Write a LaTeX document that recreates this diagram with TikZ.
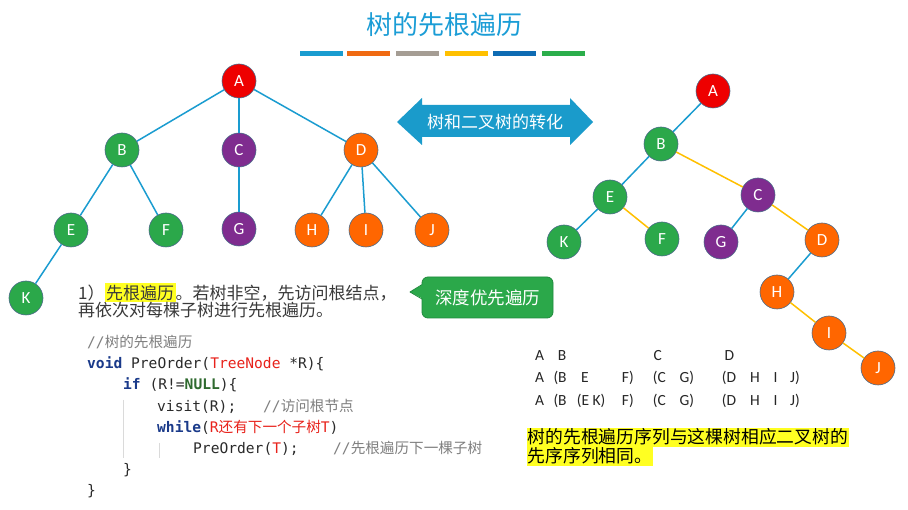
\documentclass[tikz,border=0pt]{standalone}
\usepackage{fontspec}
\setmainfont{Carlito}
\newfontfamily\cjk{Noto Sans CJK SC}
\newfontfamily\mono{DejaVu Sans Mono}
\definecolor{ttl}{HTML}{1B9DD6}
\definecolor{barA}{HTML}{1A9CD0}
\definecolor{barB}{HTML}{F06A12}
\definecolor{barC}{HTML}{A59D94}
\definecolor{barD}{HTML}{FFC000}
\definecolor{barE}{HTML}{0E6BB3}
\definecolor{barF}{HTML}{2BAE4B}
\definecolor{nred}{HTML}{EE0000}
\definecolor{ngreen}{HTML}{2BA84A}
\definecolor{npurple}{HTML}{7F2C8F}
\definecolor{norange}{HTML}{FF6600}
\definecolor{nborder}{HTML}{4A6A88}
\definecolor{eblue}{HTML}{1A9CD0}
\definecolor{eyellow}{HTML}{FFC000}
\definecolor{arrowc}{HTML}{1A9BCB}
\definecolor{cgreen}{HTML}{2BA84A}
\definecolor{cgreenD}{HTML}{1F8A3C}
\definecolor{hly}{HTML}{FFFF22}
\definecolor{bodytxt}{HTML}{3A3A3A}
\definecolor{codetxt}{HTML}{2A2A2A}
\definecolor{kw}{HTML}{1A3A8A}
\definecolor{kwg}{HTML}{2F6A2F}
\definecolor{cred}{HTML}{E8221B}
\definecolor{ccom}{HTML}{7F7F7F}
\definecolor{guide}{HTML}{DADADA}
\definecolor{seqc}{HTML}{262626}
\newcommand\hlt[1]{{\setlength\fboxsep{0pt}\colorbox{hly}{\kern1.5pt\rule[-3pt]{0pt}{19pt}#1\kern1.5pt}}}
\begin{document}
\begin{tikzpicture}[x=1pt,y=-1pt,
  tnode/.style={circle, minimum size=34pt, inner sep=0pt, draw=nborder, line width=0.6pt, text=white, font=\fontsize{17}{17}\selectfont},
  rn/.style={tnode, fill=nred},
  gn/.style={tnode, fill=ngreen},
  pn/.style={tnode, fill=npurple},
  on/.style={tnode, fill=norange},
  bedge/.style={draw=eblue, line width=1.5pt},
  yedge/.style={draw=eyellow, line width=1.5pt},
  codeline/.style={anchor=base west, inner sep=0pt, text=codetxt, font=\mono\fontsize{14.6}{17}\selectfont},
  seq/.style={anchor=base west, inner sep=0pt, text=seqc, font=\fontsize{15.5}{16}\selectfont},
  bodyline/.style={anchor=base west, inner sep=0pt, text=bodytxt, font=\cjk\fontsize{17}{17}\selectfont},
  hlline/.style={anchor=west, fill=hly, inner xsep=0.5pt, inner ysep=0pt, text height=15.5pt, text depth=3.5pt, text=black, font=\cjk\fontsize{17.8}{18}\selectfont}
]
\useasboundingbox (0,0) rectangle (908,510);
\fill[white] (0,0) rectangle (908,510);

% title
\node[text=ttl, font=\cjk\fontsize{26}{26}\selectfont] (title) at (444,25) {树的先根遍历};
\fill[barA] (300,51) rectangle (343,56);
\fill[barB] (347,51) rectangle (390,56);
\fill[barC] (396,51) rectangle (439,56);
\fill[barD] (445,51) rectangle (488,56);
\fill[barE] (493,51) rectangle (536,56);
\fill[barF] (542,51) rectangle (585,56);

% left tree
\node[rn] (A) at (239,81) {A};
\node[gn] (B) at (122,150) {B};
\node[pn] (C) at (239,150) {C};
\node[on] (D) at (361,150) {D};
\node[gn] (E) at (71,230) {E};
\node[gn] (F) at (166,230) {F};
\node[pn] (G) at (239,229) {G};
\node[on] (H) at (312,230) {H};
\node[on] (I) at (366,230) {I};
\node[on] (J) at (432,230) {J};
\node[gn] (K) at (26,298) {K};
\draw[bedge] (A) -- (B);
\draw[bedge] (A) -- (C);
\draw[bedge] (A) -- (D);
\draw[bedge] (B) -- (E);
\draw[bedge] (B) -- (F);
\draw[bedge] (C) -- (G);
\draw[bedge] (D) -- (H);
\draw[bedge] (D) -- (I);
\draw[bedge] (D) -- (J);
\draw[bedge] (E) -- (K);

% double arrow
\fill[arrowc] (397,122) -- (422,98) -- (422,105) -- (570,105) -- (570,98) -- (593,122)
  -- (570,145) -- (570,137) -- (422,137) -- (422,145) -- cycle;
\node[text=white, font=\cjk\fontsize{17}{17}\selectfont] (conv) at (495,122) {树和二叉树的转化};

% right tree
\node[rn] (rA) at (713,91) {A};
\node[gn] (rB) at (661,144) {B};
\node[gn] (rE) at (610,197) {E};
\node[pn] (rC) at (758,195) {C};
\node[gn] (rK) at (564,242) {K};
\node[gn] (rF) at (662,239) {F};
\node[pn] (rG) at (721,242) {G};
\node[on] (rD) at (822,240) {D};
\node[on] (rH) at (777,292) {H};
\node[on] (rI) at (829,333) {I};
\node[on] (rJ) at (878,368) {J};
\draw[bedge] (rA) -- (rB);
\draw[bedge] (rB) -- (rE);
\draw[yedge] (rB) -- (rC);
\draw[bedge] (rE) -- (rK);
\draw[yedge] (rE) -- (rF);
\draw[bedge] (rC) -- (rG);
\draw[yedge] (rC) -- (rD);
\draw[bedge] (rD) -- (rH);
\draw[yedge] (rH) -- (rI);
\draw[yedge] (rI) -- (rJ);

% description
\node[bodyline] (d1) at (78,299.5) {1）\hlt{先根遍历}。若树非空，先访问根结点，};
\node[bodyline] (d2) at (78,316.5) {再依次对每棵子树进行先根遍历。};

% callout
\node[draw=cgreenD, fill=cgreen, line width=0.8pt, rounded corners=6pt, minimum width=131pt, minimum height=41pt, inner sep=0pt, text=white, font=\cjk\fontsize{17.5}{18}\selectfont] (dfs) at (487.5,297.5) {深度优先遍历};
\fill[cgreen] (423.6,284) -- (410,292) -- (423.6,299) -- cycle;
\draw[cgreenD, line width=0.8pt, line join=round] (422,284.6) -- (410,292) -- (422,299);

% code
\draw[guide, line width=0.8pt] (123,400) -- (123,458);
\draw[guide, line width=0.8pt] (159,443) -- (159,458);
\node[codeline, text=ccom] (c1) at (87,348) {//{\cjk 树的先根遍历}};
\node[codeline] (c2) at (87,369) {{\bfseries\color{kw}void} PreOrder({\color{cred}TreeNode} *R)\{};
\node[codeline] (c3) at (123,390) {{\bfseries\color{kw}if} (R!={\bfseries\color{kwg}NULL})\{};
\node[codeline] (c4) at (157,411.5) {visit(R);};
\node[codeline, text=ccom] (c4c) at (263,411.5) {//{\cjk 访问根节点}};
\node[codeline] (c5) at (157,432.5) {{\bfseries\color{kw}while}({\color{cred}R{\cjk 还有下一个子树}T})};
\node[codeline] (c6) at (193,453.8) {PreOrder({\color{cred}T});};
\node[codeline, text=ccom] (c6c) at (333,453.8) {//{\cjk 先根遍历下一棵子树}};
\node[codeline] (c7) at (123,474.8) {\}};
\node[codeline] (c8) at (87,496) {\}};

% sequences
\node[seq] (s1a) at (535,361) {A};
\node[seq] (s1b) at (557.7,361) {B};
\node[seq] (s1c) at (653.3,361) {C};
\node[seq] (s1d) at (724.3,361) {D};

\node[seq] (s2a) at (535,383) {A};
\node[seq] (s2b) at (553.3,383) {(B};
\node[seq] (s2e) at (581,383) {E};
\node[seq] (s2f) at (621.7,383) {F)};
\node[seq] (s2c) at (652.7,383) {(C};
\node[seq] (s2g) at (679.3,383) {G)};
\node[seq] (s2d) at (721.7,383) {(D};
\node[seq] (s2h) at (750,383) {H};
\node[seq] (s2i) at (773.3,383) {I};
\node[seq] (s2j) at (790,383) {J)};

\node[seq] (s3a) at (535,406) {A};
\node[seq] (s3b) at (553.3,406) {(B};
\node[seq] (s3e) at (576.7,406) {(E K)};
\node[seq] (s3f) at (621.7,406) {F)};
\node[seq] (s3c) at (652.7,406) {(C};
\node[seq] (s3g) at (679.3,406) {G)};
\node[seq] (s3d) at (721.7,406) {(D};
\node[seq] (s3h) at (750,406) {H};
\node[seq] (s3i) at (773.3,406) {I};
\node[seq] (s3j) at (790,406) {J)};

% conclusion
\node[hlline] (y1) at (527,437.5) {树的先根遍历序列与这棵树相应二叉树的};
\node[hlline] (y2) at (527,456.5) {先序序列相同。};
\end{tikzpicture}
\end{document}
